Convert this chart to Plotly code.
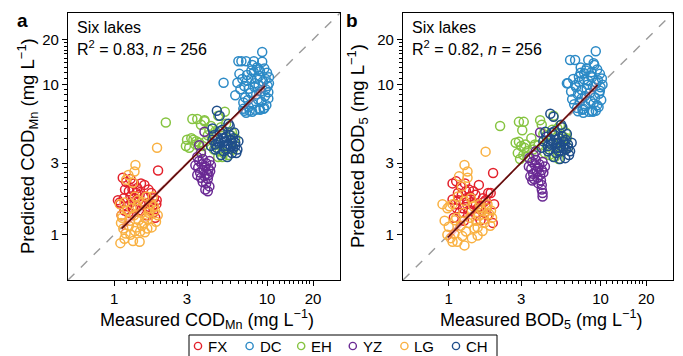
import plotly.graph_objects as go

# ---------------- data: panel a (COD_Mn) ----------------
FX_a_x = [1.94, 1.14, 1.2, 1.28, 1.35, 1.42, 1.5, 1.58, 1.18, 1.25,
          1.32, 1.4, 1.47, 1.06, 1.1, 1.16, 1.22, 1.3, 1.09, 1.17,
          1.33, 1.6, 1.68, 1.75, 1.82, 1.89, 1.65, 1.72, 1.8, 1.86,
          1.55, 1.45, 1.38, 1.24, 1.12, 1.5, 1.62, 1.78, 1.9, 1.7,
          1.28, 1.36]
FX_a_y = [2.68, 2.4, 2.25, 2.35, 2.2, 2.05, 2.2, 2.15, 2.0, 1.95,
          2.0, 1.9, 1.85, 1.7, 1.6, 1.75, 1.55, 1.65, 1.64, 1.45,
          1.5, 1.8, 2.0, 1.9, 1.75, 1.6, 1.5, 1.45, 1.4, 1.3,
          1.6, 1.7, 1.55, 1.4, 1.35, 1.45, 1.35, 1.55, 1.7, 1.65,
          1.8, 1.75]
DC_a_x = [9.3, 6.5, 6.8, 7.3, 8.2, 9.3, 9.6, 9.0, 8.6, 10.0,
          10.3, 9.8, 8.9, 7.9, 7.4, 6.9, 6.6, 7.1, 7.6, 8.3,
          8.8, 9.4, 10.1, 10.3, 10.2, 9.7, 9.1, 8.5, 7.8, 7.2,
          6.7, 6.4, 7.0, 7.5, 8.1, 8.7, 9.2, 9.9, 10.2, 9.5,
          8.4, 7.7, 7.3, 8.0, 8.9, 9.6, 7.6, 8.2, 8.8, 7.9,
          7.4, 8.6, 9.0, 7.1, 8.3, 5.2, 9.8, 8.0, 6.2, 7.0]
DC_a_y = [16.5, 14.3, 14.3, 14.3, 14.3, 14.2, 12.8, 12.3, 13.0, 12.0,
          11.2, 10.9, 11.4, 11.0, 10.6, 10.9, 11.8, 9.8, 9.4, 10.2,
          9.9, 10.5, 9.8, 10.2, 8.9, 8.4, 9.0, 8.6, 8.8, 8.2,
          9.3, 10.3, 7.6, 7.9, 7.4, 8.0, 7.7, 7.3, 8.1, 6.9,
          6.8, 6.7, 6.5, 6.6, 6.9, 7.0, 7.1, 12.1, 12.6, 12.4,
          11.6, 11.0, 6.8, 6.7, 9.6, 10.3, 9.3, 13.5, 8.5, 6.9]
EH_a_x = [2.18, 3.25, 3.5, 3.7, 3.9, 4.2, 5.3, 4.8, 3.0, 3.2,
          3.4, 3.1, 2.95, 3.6, 3.8, 4.0, 4.5, 4.9, 5.2, 5.6,
          6.0, 6.2, 4.4, 4.7, 5.1, 5.5, 5.8, 3.3, 3.45, 4.1,
          4.6, 5.0, 5.4, 3.9, 4.3, 5.9, 3.7, 4.8]
EH_a_y = [5.6, 5.9, 5.9, 5.4, 5.7, 5.0, 6.6, 6.2, 4.3, 4.4,
          4.0, 3.8, 3.9, 4.1, 3.9, 4.2, 3.7, 3.6, 3.5, 3.4,
          3.7, 4.4, 4.5, 4.0, 3.3, 3.9, 4.6, 4.3, 4.2, 4.6,
          4.9, 5.2, 5.5, 5.8, 5.3, 4.8, 3.6, 3.3]
YZ_a_x = [3.9, 3.7, 3.5, 3.6, 3.8, 4.0, 4.2, 3.4, 3.55, 3.75,
          3.95, 4.15, 4.3, 3.65, 3.85, 4.05, 4.25, 3.5, 3.7, 3.9,
          4.1, 3.8, 4.0, 4.2, 3.95, 4.1, 4.15, 3.6]
YZ_a_y = [4.85, 3.5, 3.3, 3.1, 3.2, 3.0, 3.1, 2.9, 2.8, 2.95,
          2.85, 2.75, 2.9, 2.6, 2.7, 2.55, 2.65, 2.5, 2.4, 2.45,
          2.35, 2.25, 2.2, 2.1, 2.0, 1.95, 2.5, 3.95]
LG_a_x = [1.91, 1.38, 1.36, 1.2, 1.33, 1.17, 1.37, 1.63, 1.79, 1.17,
          1.33, 1.47, 1.37, 1.59, 1.76, 1.27, 1.66, 1.09, 1.12, 1.22,
          1.3, 1.42, 1.5, 1.55, 1.7, 1.85, 1.93, 1.25, 1.45, 1.52,
          1.6, 1.68, 1.74, 1.82, 1.15, 1.28, 1.4, 1.13, 1.11, 1.1,
          1.19, 1.35, 1.48, 1.57, 1.65, 1.88, 1.24, 1.43]
LG_a_y = [3.8, 2.92, 2.64, 2.33, 2.22, 1.64, 1.8, 1.8, 1.8, 0.94,
          0.91, 0.9, 1.06, 1.04, 1.12, 1.24, 1.27, 1.6, 1.35, 1.45,
          1.5, 1.55, 1.4, 1.65, 1.5, 1.45, 1.35, 1.15, 1.25, 1.15,
          1.3, 1.4, 1.6, 1.55, 1.1, 1.0, 1.12, 1.3, 1.2, 0.88,
          1.02, 1.35, 1.05, 1.2, 1.1, 1.22, 2.5, 1.7]
CH_a_x = [4.7, 4.9, 5.6, 4.4, 5.7, 4.5, 4.8, 5.1, 5.4, 5.8,
          6.2, 4.6, 5.0, 5.3, 5.6, 6.0, 6.4, 4.4, 4.7, 5.2,
          5.5, 5.9, 6.3, 4.9, 5.1, 5.7, 6.1, 4.3, 4.6, 5.3,
          5.8, 6.0, 5.0, 5.4, 6.2, 4.8, 5.5, 6.5, 5.2, 5.9]
CH_a_y = [6.7, 6.2, 5.5, 5.1, 5.3, 4.6, 4.4, 4.7, 4.5, 4.3,
          4.1, 4.0, 4.2, 3.9, 4.0, 3.8, 3.7, 4.3, 3.8, 3.6,
          3.9, 3.5, 3.5, 4.9, 5.0, 4.6, 4.8, 3.9, 3.7, 4.2,
          3.9, 4.4, 3.4, 3.7, 3.9, 4.1, 3.3, 4.2, 4.4, 4.1]
fit_a_x = [1.12, 9.7]
fit_a_y = [1.10, 9.8]
ci_a_x = [1.12, 1.6, 2.4, 3.5, 5.0, 7.0, 9.7]
ci_a_lo = [1.04, 1.53, 2.33, 3.42, 4.86, 6.75, 9.2]
ci_a_hi = [1.17, 1.64, 2.45, 3.56, 5.08, 7.15, 10.4]

# ---------------- data: panel b (BOD5) ----------------
FX_b_x = [1.96, 1.06, 1.12, 1.2, 1.28, 1.36, 1.45, 1.58, 1.15, 1.22,
          1.3, 1.38, 1.5, 1.06, 1.1, 1.16, 1.24, 1.32, 1.08, 1.18,
          1.36, 1.6, 1.68, 1.75, 1.82, 1.89, 1.65, 1.72, 1.8, 1.95,
          1.55, 1.45, 1.4, 1.26, 1.13, 1.52, 1.62, 1.78, 1.99, 1.7,
          1.3, 1.42]
FX_b_y = [2.58, 2.2, 2.27, 2.1, 2.2, 2.0, 1.95, 2.15, 1.9, 1.85,
          1.95, 1.8, 1.85, 1.72, 1.6, 1.7, 1.5, 1.6, 1.3, 1.4,
          1.45, 1.55, 1.75, 1.7, 1.9, 1.9, 1.45, 1.4, 1.35, 1.2,
          1.5, 1.6, 1.45, 1.24, 1.5, 1.35, 1.25, 1.5, 1.6, 1.65,
          1.75, 1.65]
DC_b_x = [9.3, 6.3, 6.8, 8.3, 7.4, 9.1, 9.5, 8.7, 8.1, 9.9,
          10.2, 9.6, 8.8, 7.8, 7.2, 6.6, 6.1, 6.9, 7.5, 8.2,
          8.9, 9.4, 10.0, 10.3, 9.8, 9.2, 8.5, 7.9, 7.1, 6.5,
          6.0, 6.7, 7.3, 7.9, 8.6, 9.0, 9.7, 10.1, 9.3, 8.4,
          7.6, 7.0, 7.7, 8.8, 9.5, 7.4, 8.0, 8.6, 7.8, 7.2,
          8.3, 8.9, 6.8, 8.1, 9.9, 7.5, 6.4, 9.0, 7.1, 7.7]
DC_b_y = [16.7, 14.6, 14.6, 14.6, 13.0, 13.5, 12.6, 12.1, 12.8, 11.8,
          11.0, 10.7, 11.2, 10.8, 10.4, 10.9, 10.2, 9.6, 9.2, 10.0,
          9.7, 10.3, 9.6, 10.0, 8.7, 8.2, 8.8, 8.4, 8.6, 8.0,
          10.2, 7.4, 7.7, 7.2, 7.8, 7.5, 7.1, 7.9, 6.7, 6.6,
          6.8, 7.0, 6.9, 6.7, 7.3, 12.0, 12.4, 11.5, 11.9, 11.3,
          10.6, 6.6, 9.9, 9.4, 9.1, 8.1, 9.0, 13.9, 6.65, 6.5]
EH_b_x = [2.18, 2.9, 3.12, 3.05, 2.76, 2.9, 3.0, 3.15, 3.28, 2.85,
          3.1, 3.2, 4.0, 4.1, 4.9, 5.4, 3.9, 6.0, 6.1, 4.3,
          4.6, 5.0, 5.3, 5.6, 5.9, 4.4, 4.8, 5.2, 5.7, 3.5,
          3.7, 4.2, 4.5, 5.1, 5.5, 3.3, 3.6, 2.95]
EH_b_y = [5.3, 5.65, 5.65, 4.97, 4.1, 4.16, 3.9, 3.8, 3.6, 3.5,
          3.4, 4.0, 5.8, 5.4, 6.2, 5.35, 3.95, 4.4, 3.8, 3.5,
          3.4, 3.3, 3.2, 3.6, 4.8, 4.6, 5.0, 5.1, 4.5, 4.4,
          4.0, 4.7, 4.1, 3.9, 4.2, 3.3, 3.7, 3.2]
YZ_b_x = [4.0, 3.63, 3.4, 3.55, 3.75, 3.95, 4.15, 3.37, 3.5, 3.7,
          3.9, 4.1, 4.3, 3.6, 3.8, 4.0, 4.2, 3.45, 3.65, 3.85,
          4.05, 3.9, 4.1, 4.15, 4.1, 4.15, 3.75, 3.55]
YZ_b_y = [4.8, 3.4, 3.25, 3.05, 3.15, 2.95, 3.05, 2.85, 2.75, 2.9,
          2.8, 2.7, 2.85, 2.55, 2.65, 2.5, 2.6, 2.45, 2.35, 2.4,
          2.3, 2.2, 2.15, 1.9, 2.0, 1.8, 3.6, 2.3]
LG_b_x = [1.75, 1.27, 1.33, 1.17, 1.22, 0.91, 0.98, 1.06, 1.09, 1.23,
          0.94, 1.0, 0.98, 1.06, 1.27, 1.55, 1.67, 1.51, 1.71, 1.85,
          1.01, 1.27, 1.33, 1.15, 1.4, 1.45, 1.6, 1.78, 1.9, 1.93,
          1.12, 1.2, 1.35, 1.48, 1.58, 1.65, 1.8, 1.03, 1.14, 1.3,
          1.42, 1.55, 1.72, 1.88, 1.25, 1.38, 1.62, 1.1]
LG_b_y = [3.58, 2.92, 2.64, 2.45, 2.1, 1.6, 1.5, 1.6, 1.01, 0.98,
          1.24, 1.13, 1.0, 0.9, 0.85, 0.99, 1.06, 1.24, 1.27, 1.37,
          1.55, 1.68, 2.4, 1.8, 1.75, 1.55, 1.6, 1.5, 1.45, 1.3,
          1.3, 1.15, 1.2, 1.1, 1.35, 1.45, 1.6, 0.95, 0.9, 1.05,
          0.95, 1.12, 1.2, 1.15, 1.4, 1.3, 1.5, 1.25]
CH_b_x = [4.67, 4.9, 5.5, 4.33, 5.6, 4.4, 4.7, 5.0, 5.3, 5.7,
          6.1, 4.5, 4.9, 5.2, 5.5, 5.9, 6.3, 4.2, 4.6, 5.1,
          5.4, 5.85, 6.2, 4.8, 5.0, 5.6, 6.0, 4.1, 4.5, 5.2,
          5.7, 5.9, 4.9, 5.3, 6.1, 4.7, 5.4, 6.45, 5.1, 5.8]
CH_b_y = [6.4, 6.1, 5.4, 4.85, 5.2, 4.5, 4.3, 4.6, 4.4, 4.2,
          4.0, 3.9, 4.1, 3.8, 3.9, 3.7, 3.6, 4.2, 3.7, 3.5,
          3.8, 3.24, 3.4, 4.8, 4.9, 4.5, 4.7, 3.8, 3.6, 4.1,
          3.8, 4.3, 3.3, 3.6, 3.8, 4.0, 3.2, 4.1, 4.3, 4.0]
fit_b_x = [0.985, 9.55]
fit_b_y = [0.96, 9.95]
ci_b_x = [0.985, 1.5, 2.3, 3.4, 5.0, 7.0, 9.55]
ci_b_lo = [0.90, 1.43, 2.26, 3.37, 5.0, 7.0, 9.45]
ci_b_hi = [1.02, 1.53, 2.35, 3.49, 5.2, 7.45, 10.5]

lakes = ["FX", "DC", "EH", "YZ", "LG", "CH"]
colors = ["#E3202B", "#2C8AC6", "#86C441", "#6A2A94", "#F9B142", "#1F4E8A"]
identity = [0.5, 30]
major_ticks = [1, 3, 10, 20]
minor_ticks = [1.2, 1.4, 1.6, 1.8, 2.0, 2.2, 2.4, 2.6, 2.8,
               3.7, 4.4, 5.1, 5.8, 6.5, 7.2, 7.9, 8.6, 9.3,
               11, 12, 13, 14, 15, 16, 17, 18, 19]

panel_a = {"FX": (FX_a_x, FX_a_y), "DC": (DC_a_x, DC_a_y), "EH": (EH_a_x, EH_a_y),
           "YZ": (YZ_a_x, YZ_a_y), "LG": (LG_a_x, LG_a_y), "CH": (CH_a_x, CH_a_y)}
panel_b = {"FX": (FX_b_x, FX_b_y), "DC": (DC_b_x, DC_b_y), "EH": (EH_b_x, EH_b_y),
           "YZ": (YZ_b_x, YZ_b_y), "LG": (LG_b_x, LG_b_y), "CH": (CH_b_x, CH_b_y)}

FONT = "Liberation Sans, Arial, sans-serif"
fig = go.Figure()

def add_panel(data, fit_x, fit_y, ci_x, ci_lo, ci_hi, xa, ya):
    fig.add_trace(go.Scatter(x=identity, y=identity, mode="lines", xaxis=xa, yaxis=ya,
                             line=dict(color="#9a9a9a", width=1.4, dash="dash"),
                             showlegend=False, hoverinfo="skip"))
    for name, col in zip(lakes, colors):
        xs, ys = data[name]
        fig.add_trace(go.Scatter(x=xs, y=ys, mode="markers", name=name, xaxis=xa, yaxis=ya,
                                 marker=dict(symbol="circle-open", size=9, color=col,
                                             line=dict(width=1.5, color=col)),
                                 showlegend=False, legendgroup=name))
    fig.add_trace(go.Scatter(x=ci_x + ci_x[::-1], y=ci_hi + ci_lo[::-1], mode="lines",
                             fill="toself", fillcolor="rgba(235,70,70,0.35)",
                             line=dict(width=0, color="rgba(0,0,0,0)"), xaxis=xa, yaxis=ya,
                             showlegend=False, hoverinfo="skip"))
    fig.add_trace(go.Scatter(x=fit_x, y=fit_y, mode="lines", xaxis=xa, yaxis=ya,
                             line=dict(color="#5e0b0b", width=1.6),
                             showlegend=False, hoverinfo="skip"))

add_panel(panel_a, fit_a_x, fit_a_y, ci_a_x, ci_a_lo, ci_a_hi, "x", "y")
add_panel(panel_b, fit_b_x, fit_b_y, ci_b_x, ci_b_lo, ci_b_hi, "x2", "y2")

W, H = 683, 356
ax_common = dict(type="log", range=[-0.30103, 1.4771], tickvals=major_ticks,
                 ticktext=[str(v) for v in major_ticks], ticks="outside", ticklen=5,
                 tickwidth=1, tickcolor="black", showline=True, linecolor="black",
                 linewidth=1.2, mirror=True, showgrid=False, zeroline=False,
                 tickfont=dict(size=15, color="black", family=FONT),
                 minor=dict(tickvals=minor_ticks, ticks="outside", ticklen=3,
                            tickwidth=1, tickcolor="black", showgrid=False))
ydom = [1 - 280 / H, 1 - 13 / H]

# ---- legend (drawn as a framed row of symbol + label) ----
LEG_LEFT, LEG_RIGHT, LEG_TOP = 189, 497, 335
LEG_X0, LEG_STEP, LEG_YC = 198, 51.6, 346
shapes = [dict(type="rect", xref="paper", yref="paper", x0=LEG_LEFT / W, x1=LEG_RIGHT / W,
               y0=1 - 358 / H, y1=1 - LEG_TOP / H, line=dict(color="black", width=1),
               fillcolor="white", layer="above")]
ann = []
for i, (name, col) in enumerate(zip(lakes, colors)):
    cx = LEG_X0 + i * LEG_STEP
    shapes.append(dict(type="circle", xref="paper", yref="paper",
                       xsizemode="pixel", ysizemode="pixel",
                       xanchor=cx / W, yanchor=1 - LEG_YC / H,
                       x0=-3.6, x1=3.6, y0=-3.6, y1=3.6,
                       line=dict(color=col, width=1.4), layer="above"))
    ann.append(dict(x=(cx + 8) / W, y=1 - LEG_YC / H, xref="paper", yref="paper",
                    text=name, showarrow=False, xanchor="left", yanchor="middle",
                    font=dict(size=15, family=FONT, color="black")))

fig.update_layout(
    width=W, height=H, margin=dict(l=0, r=0, t=0, b=0, autoexpand=False),
    paper_bgcolor="white", plot_bgcolor="white", showlegend=False,
    font=dict(family=FONT, color="black"),
    xaxis=dict(domain=[68 / W, 340 / W], anchor="y", **ax_common),
    yaxis=dict(domain=ydom, anchor="x", **ax_common),
    xaxis2=dict(domain=[403 / W, 673 / W], anchor="y2", **ax_common),
    yaxis2=dict(domain=ydom, anchor="x2", **ax_common),
    shapes=shapes,
)

def a(x, y, text, size, **kw):
    d = dict(x=x / W, y=1 - y / H, xref="paper", yref="paper", text=text, showarrow=False,
             xanchor="center", yanchor="middle",
             font=dict(size=size, family=FONT, color="black"))
    d.update(kw)
    ann.append(d)

a(22, 20, "<b>a</b>", 19)
a(352, 20, "<b>b</b>", 19)
a(75, 28, "Six lakes", 16, xanchor="left")
a(75, 48, "R<sup>2</sup> = 0.83, <i>n</i> = 256", 16, xanchor="left")
a(410, 28, "Six lakes", 16, xanchor="left")
a(410, 48, "R<sup>2</sup> = 0.82, <i>n</i> = 256", 16, xanchor="left")
a(207, 319, "Measured COD<sub>Mn</sub> (mg L<sup>\u22121</sup>)", 18)
a(541, 319, "Measured BOD<sub>5</sub> (mg L<sup>\u22121</sup>)", 18)
a(27, 146, "Predicted COD<sub>Mn</sub> (mg L<sup>\u22121</sup>)", 18.5, textangle=-90)
a(357, 146, "Predicted BOD<sub>5</sub> (mg L<sup>\u22121</sup>)", 18.5, textangle=-90)
fig.update_layout(annotations=ann)

fig.write_html("out.html")
